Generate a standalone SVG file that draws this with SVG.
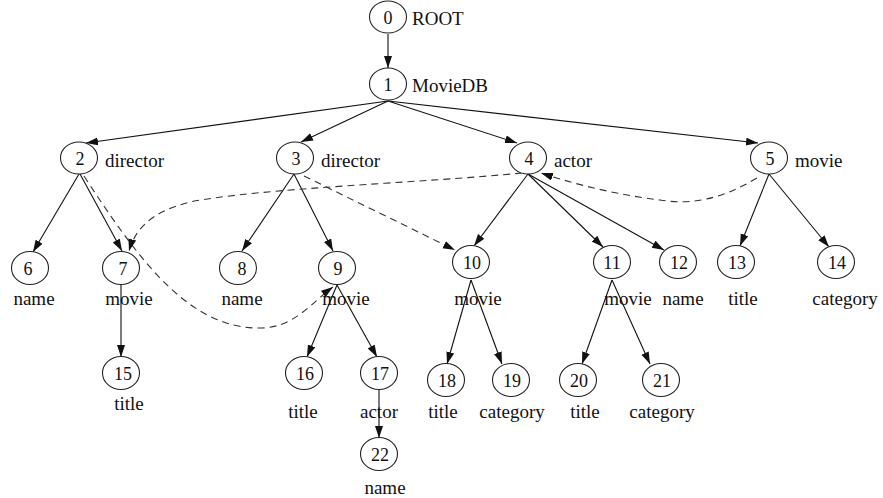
<svg xmlns="http://www.w3.org/2000/svg" width="883" height="498" viewBox="0 0 883 498">
<defs>
<marker id="ah" markerUnits="userSpaceOnUse" markerWidth="13" markerHeight="9" refX="12" refY="4" orient="auto">
<path d="M0,0 L12,4 L0,8 z" fill="#111"/>
</marker>
<style>
.n ellipse{fill:#fff;stroke:#222;stroke-width:1.1}
.n text{font-size:18px;fill:#111;text-anchor:middle}
text.l{font-size:19px;fill:#111}
text.c{text-anchor:middle}
#edges path{fill:none;stroke:#111;stroke-width:1.1;marker-end:url(#ah)}
#edges path.d{stroke-dasharray:7,5;stroke:#333}
</style>
</defs>
<rect width="883" height="498" fill="#fff"/>
<g id="edges">
<path d="M388,34 L388,68"/>
<path d="M388,101 L86,143"/>
<path d="M388,101 L301,142"/>
<path d="M388,101 L517,143"/>
<path d="M388,101 L758,143"/>
<path d="M79,174 L33,252"/>
<path d="M80,174 L122,251"/>
<path d="M294,174 L242,251"/>
<path d="M294,174 L333,251"/>
<path d="M528,174 L474,246"/>
<path d="M528,174 L603,247"/>
<path d="M528,174 L664,250"/>
<path d="M769,174 L740,246"/>
<path d="M769,174 L829,247"/>
<path d="M121,285 L121,357"/>
<path d="M337,285 L307,357"/>
<path d="M337,285 L377,357"/>
<path d="M379,390 L379,438"/>
<path d="M471,280 L447,364"/>
<path d="M471,280 L502,364"/>
<path d="M612,280 L582,364"/>
<path d="M612,280 L650,364"/>
<path class="d" d="M84,176 C140,262 190,330 262,328 C295,327 312,302 333,287"/>
<path class="d" d="M304,176 L455,250"/>
<path class="d" d="M522,173 C420,183 260,188 190,202 C150,212 135,230 129,251"/>
<path class="d" d="M757,178 C720,200 690,205 660,200 C620,195 580,186 541,173"/>
</g>
<g font-family="'Liberation Serif','Times New Roman',serif">
<g id="n0" class="n"><ellipse cx="388" cy="17" rx="18.5" ry="16"/><text x="388" y="24">0</text></g>
<g id="n1" class="n"><ellipse cx="388" cy="84" rx="18.5" ry="16"/><text x="388" y="91">1</text></g>
<g id="n2" class="n"><ellipse cx="79" cy="158" rx="18.5" ry="16"/><text x="80" y="165">2</text></g>
<g id="n3" class="n"><ellipse cx="295" cy="158" rx="18.5" ry="16"/><text x="296" y="165">3</text></g>
<g id="n4" class="n"><ellipse cx="528" cy="158" rx="18.5" ry="16"/><text x="529" y="165">4</text></g>
<g id="n5" class="n"><ellipse cx="769" cy="158" rx="18.5" ry="16"/><text x="770" y="165">5</text></g>
<g id="n6" class="n"><ellipse cx="30" cy="268" rx="18.5" ry="16.5"/><text x="28" y="275">6</text></g>
<g id="n7" class="n"><ellipse cx="121" cy="268" rx="18.5" ry="16.5"/><text x="123" y="275">7</text></g>
<g id="n8" class="n"><ellipse cx="238" cy="268" rx="18.5" ry="16.5"/><text x="242" y="275">8</text></g>
<g id="n9" class="n"><ellipse cx="337" cy="268" rx="18.5" ry="16.5"/><text x="338" y="275">9</text></g>
<g id="n10" class="n"><ellipse cx="471" cy="262" rx="18.5" ry="16.5"/><text x="472" y="269">10</text></g>
<g id="n11" class="n"><ellipse cx="612" cy="262" rx="18.5" ry="16.5"/><text x="612" y="269">11</text></g>
<g id="n12" class="n"><ellipse cx="678" cy="262" rx="18.5" ry="16.5"/><text x="679" y="269">12</text></g>
<g id="n13" class="n"><ellipse cx="736" cy="262" rx="18.5" ry="16.5"/><text x="737" y="269">13</text></g>
<g id="n14" class="n"><ellipse cx="836" cy="262" rx="18.5" ry="16.5"/><text x="837" y="269">14</text></g>
<g id="n15" class="n"><ellipse cx="121" cy="373" rx="18.5" ry="16.5"/><text x="123" y="380">15</text></g>
<g id="n16" class="n"><ellipse cx="304" cy="373" rx="18.5" ry="16.5"/><text x="305" y="380">16</text></g>
<g id="n17" class="n"><ellipse cx="379" cy="373" rx="18.5" ry="16.5"/><text x="380" y="380">17</text></g>
<g id="n18" class="n"><ellipse cx="446" cy="380" rx="18.5" ry="16.5"/><text x="447" y="387">18</text></g>
<g id="n19" class="n"><ellipse cx="511" cy="380" rx="18.5" ry="16.5"/><text x="512" y="387">19</text></g>
<g id="n20" class="n"><ellipse cx="578" cy="380" rx="18.5" ry="16.5"/><text x="579" y="387">20</text></g>
<g id="n21" class="n"><ellipse cx="661" cy="380" rx="18.5" ry="16.5"/><text x="662" y="387">21</text></g>
<g id="n22" class="n"><ellipse cx="379" cy="454" rx="18.5" ry="16.5"/><text x="380" y="461">22</text></g>
<g id="labels">
<text class="l" x="412" y="25">ROOT</text>
<text class="l" x="412" y="92">MovieDB</text>
<text class="l" x="105" y="167">director</text>
<text class="l" x="321" y="167">director</text>
<text class="l" x="554" y="167">actor</text>
<text class="l" x="795" y="167">movie</text>
<text class="l c" x="34" y="305">name</text>
<text class="l c" x="129" y="305">movie</text>
<text class="l c" x="242" y="305">name</text>
<text class="l c" x="346" y="305">movie</text>
<text class="l c" x="478" y="305">movie</text>
<text class="l c" x="628" y="305">movie</text>
<text class="l c" x="683" y="305">name</text>
<text class="l c" x="743" y="305">title</text>
<text class="l c" x="845" y="305">category</text>
<text class="l c" x="129" y="410">title</text>
<text class="l c" x="303" y="418">title</text>
<text class="l c" x="379" y="418">actor</text>
<text class="l c" x="443" y="418">title</text>
<text class="l c" x="512" y="418">category</text>
<text class="l c" x="585" y="418">title</text>
<text class="l c" x="662" y="418">category</text>
<text class="l c" x="385" y="494">name</text>
</g>
</g>
</svg>
